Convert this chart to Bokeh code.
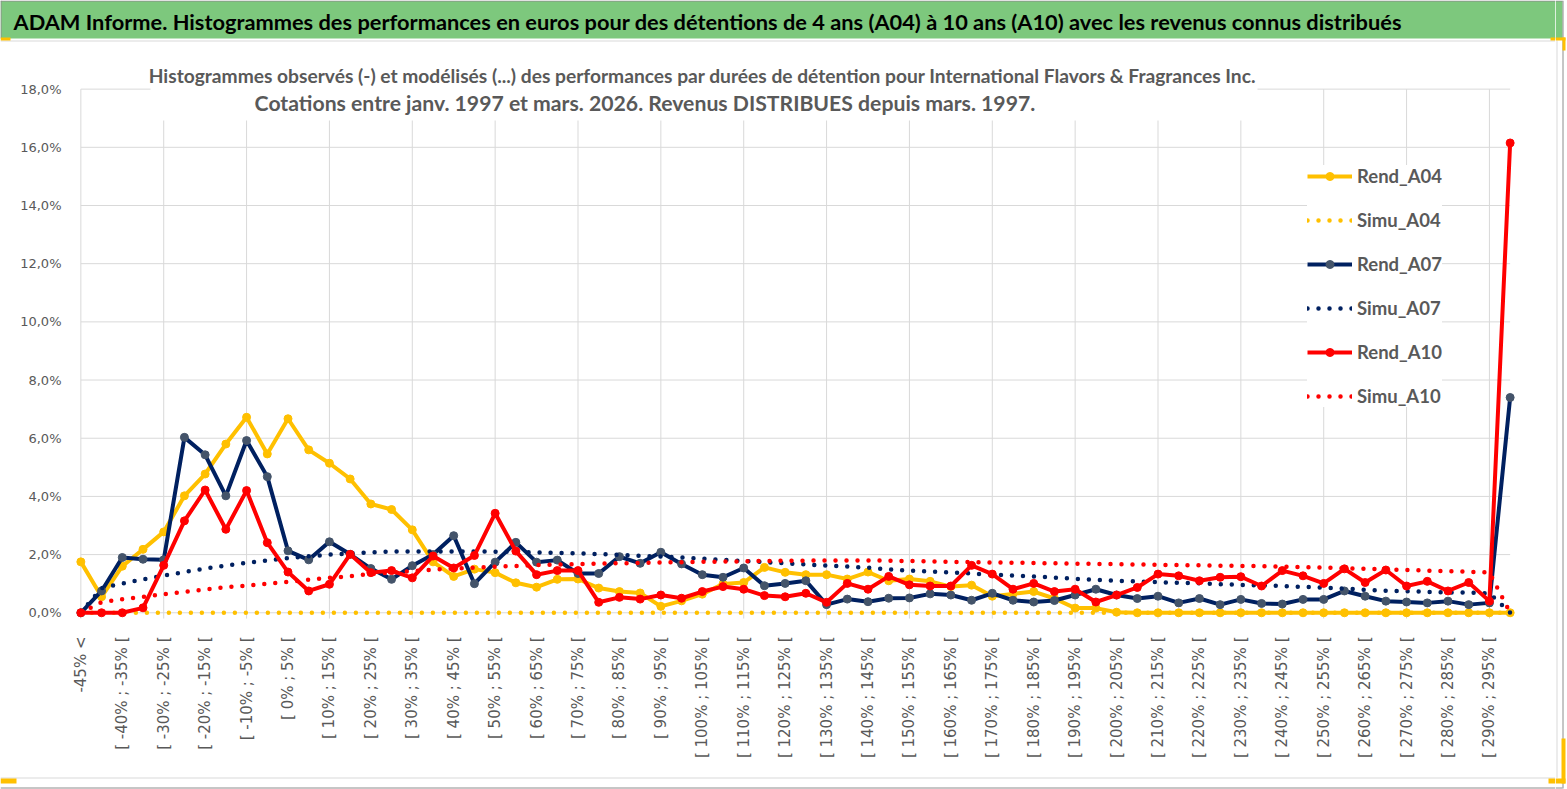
import math

from bokeh.embed import file_html
from bokeh.layouts import column, row
from bokeh.models import (BoxAnnotation, CustomJSTickFormatter, FixedTicker,
                          Label, Legend, LegendItem, Range1d)
from bokeh.plotting import figure
from bokeh.resources import INLINE

# bins of 5 %, first and last are open-ended
categories = (["-45% <"]
              + [f"[ {b}% ; {b + 5}% [" for b in range(-45, 295, 5)]
              + ["> 295%"])

# frequencies in %
rend_a04 = [1.75, 0.55, 1.60, 2.18, 2.78, 4.02, 4.77, 5.80, 6.72, 5.46,
            6.67, 5.60, 5.14, 4.60, 3.74, 3.55, 2.85, 1.75, 1.25, 1.50,
            1.38, 1.03, 0.88, 1.15, 1.16, 0.85, 0.73, 0.68, 0.22, 0.41,
            0.64, 0.99, 1.04, 1.56, 1.39, 1.31, 1.31, 1.16, 1.40, 1.10,
            1.16, 1.08, 0.90, 0.95, 0.57, 0.65, 0.73, 0.49, 0.16, 0.16,
            0.02, 0.00, 0.00, 0.00, 0.00, 0.00, 0.00, 0.00, 0.00, 0.00,
            0.00, 0.00, 0.00, 0.00, 0.00, 0.00, 0.00, 0.00, 0.00, 0.00]

simu_a04 = [0.00, 0.00, 0.00, 0.00, 0.00, 0.00, 0.00, 0.00, 0.00, 0.00,
            0.00, 0.00, 0.00, 0.00, 0.00, 0.00, 0.00, 0.00, 0.00, 0.00,
            0.00, 0.00, 0.00, 0.00, 0.00, 0.00, 0.00, 0.00, 0.00, 0.00,
            0.00, 0.00, 0.00, 0.00, 0.00, 0.00, 0.00, 0.00, 0.00, 0.00,
            0.00, 0.00, 0.00, 0.00, 0.00, 0.00, 0.00, 0.00, 0.00, 0.00,
            0.00, 0.00, 0.00, 0.00, 0.00, 0.00, 0.00, 0.00, 0.00, 0.00,
            0.00, 0.00, 0.00, 0.00, 0.00, 0.00, 0.00, 0.00, 0.00, 0.00]

rend_a07 = [0.00, 0.75, 1.90, 1.84, 1.82, 6.03, 5.43, 4.02, 5.92, 4.68,
            2.13, 1.82, 2.44, 2.01, 1.52, 1.15, 1.62, 2.00, 2.65, 1.00,
            1.74, 2.42, 1.74, 1.81, 1.35, 1.35, 1.93, 1.70, 2.08, 1.68,
            1.31, 1.22, 1.54, 0.93, 1.01, 1.10, 0.28, 0.47, 0.38, 0.50,
            0.51, 0.65, 0.61, 0.43, 0.67, 0.43, 0.37, 0.42, 0.61, 0.81,
            0.61, 0.49, 0.57, 0.34, 0.49, 0.28, 0.46, 0.32, 0.30, 0.46,
            0.46, 0.75, 0.57, 0.40, 0.37, 0.34, 0.40, 0.28, 0.34, 7.40]

simu_a07 = [0.00, 0.85, 1.00, 1.15, 1.28, 1.40, 1.52, 1.62, 1.72, 1.80,
            1.88, 1.94, 2.00, 2.04, 2.08, 2.10, 2.11, 2.11, 2.11, 2.11,
            2.10, 2.09, 2.07, 2.06, 2.04, 2.02, 1.99, 1.96, 1.93, 1.90,
            1.86, 1.82, 1.78, 1.74, 1.70, 1.66, 1.62, 1.59, 1.55, 1.49,
            1.45, 1.42, 1.39, 1.35, 1.31, 1.28, 1.25, 1.21, 1.17, 1.13,
            1.10, 1.08, 1.05, 1.03, 1.01, 0.98, 0.96, 0.94, 0.92, 0.89,
            0.86, 0.83, 0.79, 0.76, 0.74, 0.72, 0.70, 0.69, 0.67, 0.00]

rend_a10 = [0.00, 0.00, 0.00, 0.17, 1.63, 3.16, 4.22, 2.87, 4.20, 2.41,
            1.40, 0.75, 0.98, 2.01, 1.38, 1.45, 1.20, 1.95, 1.54, 1.97,
            3.42, 2.12, 1.31, 1.45, 1.45, 0.36, 0.53, 0.47, 0.61, 0.50,
            0.73, 0.90, 0.81, 0.59, 0.55, 0.67, 0.36, 1.01, 0.81, 1.25,
            0.96, 0.92, 0.92, 1.63, 1.33, 0.81, 1.01, 0.73, 0.81, 0.37,
            0.61, 0.87, 1.33, 1.27, 1.10, 1.22, 1.24, 0.92, 1.45, 1.27,
            1.01, 1.51, 1.04, 1.47, 0.92, 1.08, 0.75, 1.04, 0.40, 16.15]

simu_a10 = [0.00, 0.36, 0.47, 0.55, 0.64, 0.72, 0.80, 0.88, 0.93, 1.00,
            1.06, 1.14, 1.20, 1.26, 1.33, 1.38, 1.43, 1.48, 1.52, 1.55,
            1.58, 1.61, 1.64, 1.66, 1.67, 1.69, 1.70, 1.71, 1.73, 1.74,
            1.75, 1.76, 1.77, 1.78, 1.79, 1.79, 1.80, 1.80, 1.80, 1.79,
            1.78, 1.77, 1.75, 1.74, 1.73, 1.72, 1.71, 1.70, 1.69, 1.68,
            1.67, 1.66, 1.65, 1.64, 1.63, 1.62, 1.61, 1.60, 1.59, 1.57,
            1.55, 1.53, 1.51, 1.49, 1.47, 1.45, 1.43, 1.41, 1.39, 0.00]

y_ticks = [0, 2, 4, 6, 8, 10, 12, 14, 16, 18]

TITLE = ("ADAM Informe. Histogrammes des performances en euros pour des détentions "
         "de 4 ans (A04) à 10 ans (A10) avec les revenus connus distribués")
SUB1 = ("Histogrammes observés (-) et modélisés (...) des performances par durées de "
        "détention pour International Flavors & Fragrances Inc.")
SUB2 = "Cotations entre janv. 1997 et mars. 2026.  Revenus DISTRIBUES depuis mars. 1997."

GRAY_TXT = "#595959"
GRID = "#D9D9D9"
EDGE = "#8C8C8C"
GREEN = "#7DC87D"
YELLOW = "#FFC000"
W, H = 1567, 789
WM = 1555          # width of the main column, the rest is the right edge strip


def strip(x0, x1, y0, y1):
    # decoration strip, data units are page pixels (y downwards)
    f = figure(width=x1 - x0, height=y1 - y0, x_range=Range1d(x0, x1),
               y_range=Range1d(y1, y0), x_axis_type=None, y_axis_type=None,
               output_backend="svg", toolbar_location=None, tools="", min_border=0,
               frame_align=False)
    f.outline_line_color = None
    f.grid.visible = False
    return f


# ---- green banner
head = strip(0, WM, 0, 42)
head.quad(left=0, right=WM, top=0.5, bottom=38, fill_color=GREEN, line_color=None)
head.segment(x0=0, x1=WM, y0=0.5, y1=0.5, line_color=EDGE, line_width=1)
head.segment(x0=0.5, x1=0.5, y0=0, y1=38, line_color=EDGE, line_width=1)
head.segment(x0=0, x1=WM, y0=40.5, y1=40.5, line_color=GRID, line_width=1)
head.quad(left=0, right=10, top=37, bottom=40, fill_color=YELLOW, line_color=None)
head.quad(left=1550, right=WM, top=37, bottom=40, fill_color=YELLOW, line_color=None)
head.add_layout(Label(x=13, y=21, text=TITLE, text_font="Lato", text_font_style="bold",
                      text_font_size="21.8px", text_color="black",
                      text_align="left", text_baseline="middle"))

# ---- chart
xs = list(range(len(categories)))

p = figure(width=WM, height=734, title=None,
           x_range=Range1d(-0.5, len(categories) - 0.5), y_range=Range1d(-0.3, 19.5),
           output_backend="svg", toolbar_location=None, tools="", frame_align=False,
           min_border_left=70, min_border_right=35, min_border_top=3, min_border_bottom=155)
p.outline_line_color = None
p.xgrid.visible = False
p.ygrid.visible = False

# excel-like gridlines: every 4 bins vertically, 2 % horizontally
vgrid = xs[::4]
p.segment(x0=vgrid, x1=vgrid, y0=-0.2, y1=y_ticks[-1], line_color=GRID, line_width=1)
p.segment(x0=0, x1=xs[-1], y0=y_ticks, y1=y_ticks, line_color=GRID, line_width=1)

p.yaxis.ticker = FixedTicker(ticks=y_ticks)
p.yaxis.formatter = CustomJSTickFormatter(code="return tick.toFixed(1).replace('.', ',') + '%';")
p.xaxis.ticker = FixedTicker(ticks=xs[::2])
p.xaxis.formatter = CustomJSTickFormatter(args=dict(labels=categories),
                                          code="return labels[Math.round(tick)];")
p.xaxis.major_label_orientation = math.pi / 2
for ax in (p.xaxis, p.yaxis):
    ax.axis_line_color = None
    ax.major_tick_line_color = None
    ax.minor_tick_line_color = None
    ax.major_label_text_font = "DejaVu Sans"
    ax.major_label_text_color = GRAY_TXT
p.xaxis.major_label_text_font_size = "15px"
p.xaxis.major_label_standoff = 9
p.yaxis.major_label_text_font_size = "13px"
p.yaxis.major_label_standoff = 3

# white panel behind the chart title (hides the grid there)
p.add_layout(BoxAnnotation(left=150, right=1257, top=0, bottom=78,
                           left_units="canvas", right_units="canvas",
                           top_units="canvas", bottom_units="canvas",
                           fill_color="white", fill_alpha=1.0, line_color=None))
p.add_layout(Label(x=702, y=33, x_units="canvas", y_units="canvas", text=SUB1,
                   text_font="Lato", text_font_style="bold", text_font_size="19.2px",
                   text_color=GRAY_TXT, text_align="center", text_baseline="middle"))
p.add_layout(Label(x=647, y=60, x_units="canvas", y_units="canvas", text=SUB2,
                   text_font="Lato", text_font_style="bold", text_font_size="21.2px",
                   text_color=GRAY_TXT, text_align="center", text_baseline="middle"))

series = [
    ("Rend_A04", rend_a04, YELLOW, YELLOW, False),
    ("Simu_A04", simu_a04, YELLOW, None, True),
    ("Rend_A07", rend_a07, "#002060", "#44546A", False),
    ("Simu_A07", simu_a07, "#002060", None, True),
    ("Rend_A10", rend_a10, "#FF0000", "#FF0000", False),
    ("Simu_A10", simu_a10, "#FF0000", None, True),
]

items = []
for name, vals, color, mcolor, dotted in series:
    if dotted:
        r = p.line(xs, vals, line_color=color, line_width=4.5,
                   line_dash="0 11", line_cap="round")
        items.append(LegendItem(label=name, renderers=[r]))
    else:
        r = p.line(xs, vals, line_color=color, line_width=4, line_join="round")
        m = p.scatter(xs, vals, size=8, fill_color=mcolor, line_color=mcolor)
        items.append(LegendItem(label=name, renderers=[r, m]))

legend = Legend(items=items, location=(1237, 214), border_line_color=None,
                background_fill_color="white", background_fill_alpha=1.0,
                label_text_font="Lato", label_text_font_style="bold",
                label_text_font_size="18.5px", label_text_color=GRAY_TXT,
                glyph_width=45, glyph_height=20, label_height=20,
                spacing=22, padding=11, label_standoff=5, margin=0)
p.add_layout(legend)

# ---- bottom edge of the chart area
foot = strip(0, WM, 776, H)
foot.segment(x0=0, x1=WM, y0=777.5, y1=777.5, line_color=GRID, line_width=1)
foot.segment(x0=0, x1=WM, y0=787.5, y1=787.5, line_color=EDGE, line_width=1)
foot.quad(left=0, right=16, top=778, bottom=783, fill_color=YELLOW, line_color=None)
foot.quad(left=1548, right=WM, top=778, bottom=783, fill_color=YELLOW, line_color=None)

# ---- right edge of the chart area
side = strip(WM, W, 0, H)
side.quad(left=WM, right=1562, top=0.5, bottom=38, fill_color=GREEN, line_color=None)
side.segment(x0=WM, x1=1562, y0=0.5, y1=0.5, line_color=EDGE, line_width=1)
side.segment(x0=WM, x1=1562, y0=787.5, y1=787.5, line_color=EDGE, line_width=1)
side.segment(x0=1556.5, x1=1556.5, y0=40, y1=777.5, line_color=GRID, line_width=1)
side.segment(x0=1562.5, x1=1562.5, y0=0, y1=788, line_color=EDGE, line_width=1)
side.quad(left=WM, right=1565, top=37, bottom=40, fill_color=YELLOW, line_color=None)
side.quad(left=1562, right=1565, top=37, bottom=50, fill_color=YELLOW, line_color=None)
side.quad(left=1561, right=1565, top=738, bottom=783, fill_color=YELLOW, line_color=None)
side.quad(left=WM, right=1565, top=778, bottom=783, fill_color=YELLOW, line_color=None)

page = row(column(head, p, foot, spacing=0), side, spacing=0)
open("out.html", "w").write(file_html(page, INLINE))
